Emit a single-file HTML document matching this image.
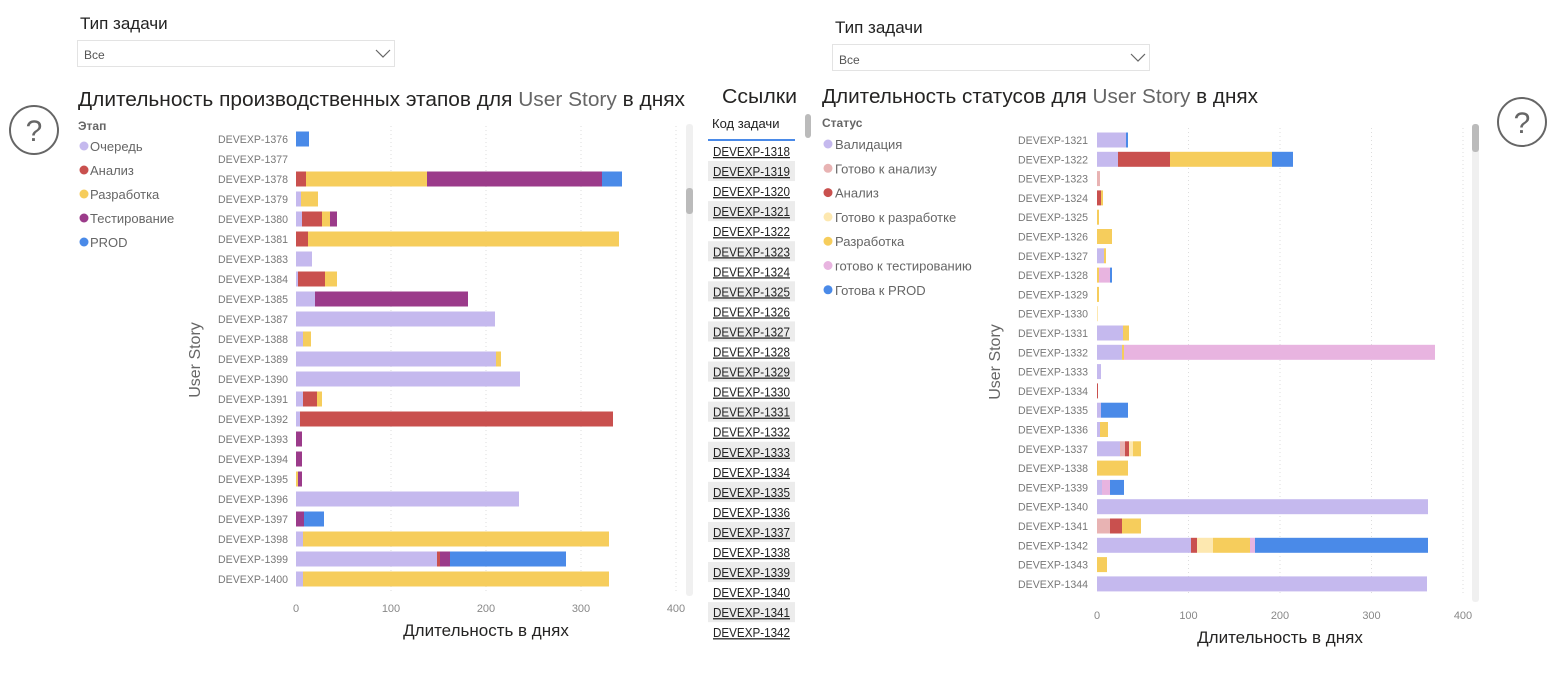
<!DOCTYPE html>
<html><head><meta charset="utf-8"><style>
body{margin:0;width:1560px;height:679px;background:#fff;overflow:hidden;font-family:"Liberation Sans","DejaVu Sans",sans-serif;}
</style></head><body>
<svg id="s" width="1560" height="679" xmlns="http://www.w3.org/2000/svg" font-family="Liberation Sans, DejaVu Sans, sans-serif">
<text x="80" y="29" font-size="17" fill="#222">Тип задачи</text>
<rect x="77.5" y="40.5" width="317" height="26" fill="#fff" stroke="#e3e3e3"/>
<text x="84" y="59" font-size="12" fill="#555">Все</text>
<polyline points="376,50 383,57 390,50" fill="none" stroke="#666" stroke-width="1.2"/>
<text x="835" y="33" font-size="17" fill="#222">Тип задачи</text>
<rect x="832.5" y="44.5" width="317" height="26" fill="#fff" stroke="#e3e3e3"/>
<text x="839" y="64" font-size="12" fill="#555">Все</text>
<polyline points="1131,54 1138,61 1145,54" fill="none" stroke="#666" stroke-width="1.2"/>
<text x="78" y="106" font-size="20" fill="#252423" textLength="607" lengthAdjust="spacingAndGlyphs">Длительность производственных этапов для <tspan fill="#666">User Story</tspan> в днях</text>
<text x="722" y="103" font-size="20" fill="#252423" textLength="75" lengthAdjust="spacingAndGlyphs">Ссылки</text>
<text x="822" y="103" font-size="20" fill="#252423" textLength="436" lengthAdjust="spacingAndGlyphs">Длительность статусов для <tspan fill="#666">User Story</tspan> в днях</text>
<circle cx="34" cy="130" r="24" fill="none" stroke="#666" stroke-width="2"/>
<text x="34" y="141" font-size="30" fill="#666" text-anchor="middle">?</text>
<circle cx="1522" cy="122" r="24" fill="none" stroke="#666" stroke-width="2"/>
<text x="1522" y="133" font-size="30" fill="#666" text-anchor="middle">?</text>
<text x="78" y="130" font-size="12" font-weight="bold" fill="#666">Этап</text>
<text x="822" y="127" font-size="12" font-weight="bold" fill="#666">Статус</text>
<text x="712" y="128" font-size="13" fill="#222">Код задачи</text>
<rect x="708" y="139" width="87" height="2" fill="#4a8ae8"/>
<rect x="805" y="114" width="6" height="24" rx="3" fill="#bbb"/>
<rect x="686" y="124" width="7" height="472" rx="3" fill="#f0f0f0"/>
<rect x="686" y="188" width="7" height="26" rx="3" fill="#bbb"/>
<rect x="1472" y="124" width="7" height="478" rx="3" fill="#f0f0f0"/>
<rect x="1472" y="124" width="7" height="28" rx="3" fill="#bbb"/>
<text transform="translate(200,360) rotate(-90)" font-size="16" fill="#666" text-anchor="middle">User Story</text>
<text transform="translate(1000,362) rotate(-90)" font-size="16" fill="#666" text-anchor="middle">User Story</text>
<text x="486" y="636" font-size="17" fill="#252423" text-anchor="middle">Длительность в днях</text>
<text x="1280" y="643" font-size="17" fill="#252423" text-anchor="middle">Длительность в днях</text>
<g id="g"></g>
</svg>
<script>
var g=document.getElementById('g'),h='';
var C={l:'#c5b9ee',r:'#c9504e',y:'#f6cd5c',p:'#9b3b8a',b:'#4a8ae8',a:'#e8b3b3',q:'#fde8b0',t:'#e8b4e0'};
function T(x,y,s,f,o){h+='<text x="'+x+'" y="'+y+'" font-size="'+f+'" '+(o||'')+'>'+s+'</text>';}
[['Очередь','l'],['Анализ','r'],['Разработка','y'],['Тестирование','p'],['PROD','b']].forEach(function(e,i){var y=146+i*24;h+='<circle cx="84" cy="'+y+'" r="4.5" fill="'+C[e[1]]+'"/>';T(90,y+5,e[0],13,'fill="#666"');});
[['Валидация','l'],['Готово к анализу','a'],['Анализ','r'],['Готово к разработке','q'],['Разработка','y'],['готово к тестированию','t'],['Готова к PROD','b']].forEach(function(e,i){var y=144+i*24.3;h+='<circle cx="828" cy="'+y+'" r="4.5" fill="'+C[e[1]]+'"/>';T(835,y+5,e[0],13,'fill="#666"');});
[0,100,200,300,400].forEach(function(v,i){var x=296+i*95;if(i)h+='<line x1="'+x+'" y1="126" x2="'+x+'" y2="592" stroke="#ddd" stroke-dasharray="1,3"/>';T(x,612,v,11,'fill="#888" text-anchor="middle"');
var x2=1097+i*91.5;if(i)h+='<line x1="'+x2+'" y1="128" x2="'+x2+'" y2="596" stroke="#ddd" stroke-dasharray="1,3"/>';T(x2,619,v,11,'fill="#888" text-anchor="middle"');});
var L=[['1376','b296-309'],['1377',''],['1378','r296-306 y306-427 p427-602 b602-622'],['1379','l296-301 y301-318'],['1380','l296-302 r302-322 y322-330 p330-337'],['1381','r296-308 y308-619'],['1383','l296-312'],['1384','l296-298 r298-325 y325-337'],['1385','l296-315 p315-468'],['1387','l296-495'],['1388','l296-303 y303-311'],['1389','l296-496 y496-501'],['1390','l296-520'],['1391','l296-303 r303-317 y317-322'],['1392','l296-300 r300-613'],['1393','p296-302'],['1394','p296-302'],['1395','y296-298 p298-302'],['1396','l296-519'],['1397','p296-304 b304-324'],['1398','l296-303 y303-609'],['1399','l296-437 r437-440 p440-450 b450-566'],['1400','l296-303 y303-609']];
L.forEach(function(r,i){var y=139+i*20;T(288,y+4,'DEVEXP-'+r[0],11,'fill="#777" text-anchor="end" textLength="70" lengthAdjust="spacingAndGlyphs"');
if(r[1])r[1].split(' ').forEach(function(s){var c=C[s[0]],p=s.slice(1).split('-');h+='<rect x="'+p[0]+'" y="'+(y-7.5)+'" width="'+(p[1]-p[0])+'" height="15" fill="'+c+'"/>';});});
var R=[['1321','l1097-1126 b1126-1128'],['1322','l1097-1118 r1118-1170 y1170-1272 b1272-1293'],['1323','a1097-1100'],['1324','r1097-1101 y1101-1103'],['1325','y1097-1099'],['1326','y1097-1112'],['1327','l1097-1104 y1104-1106'],['1328','y1097-1099 t1099-1110 b1110-1112'],['1329','y1097-1099'],['1330','q1097-1098'],['1331','l1097-1123 y1123-1129'],['1332','l1097-1122 y1122-1124 t1124-1435'],['1333','l1097-1101'],['1334','r1097-1098'],['1335','l1097-1101 b1101-1128'],['1336','l1097-1100 y1100-1108'],['1337','l1097-1120 a1120-1125 r1125-1129 q1129-1133 y1133-1141'],['1338','y1097-1128'],['1339','l1097-1102 t1102-1110 b1110-1124'],['1340','l1097-1428'],['1341','a1097-1110 r1110-1122 y1122-1141'],['1342','l1097-1191 r1191-1197 q1197-1213 y1213-1250 t1250-1255 b1255-1428'],['1343','y1097-1107'],['1344','l1097-1427']];
R.forEach(function(r,i){var y=140+i*19.3;T(1088,y+4,'DEVEXP-'+r[0],11,'fill="#777" text-anchor="end" textLength="70" lengthAdjust="spacingAndGlyphs"');
r[1].split(' ').forEach(function(s){var c=C[s[0]],p=s.slice(1).split('-');h+='<rect x="'+p[0]+'" y="'+(y-7.5)+'" width="'+Math.max(1,p[1]-p[0])+'" height="15" fill="'+c+'"/>';});});
for(var i=0;i<25;i++){var y=151+i*20.05;if(i%2)h+='<rect x="708" y="'+(y-10)+'" width="87" height="20" fill="#ececec"/>';T(713,y+5,'DEVEXP-'+(1318+i),12.5,'fill="#222" text-decoration="underline" textLength="77" lengthAdjust="spacingAndGlyphs"');}
g.innerHTML=h;
</script>
</body></html>
